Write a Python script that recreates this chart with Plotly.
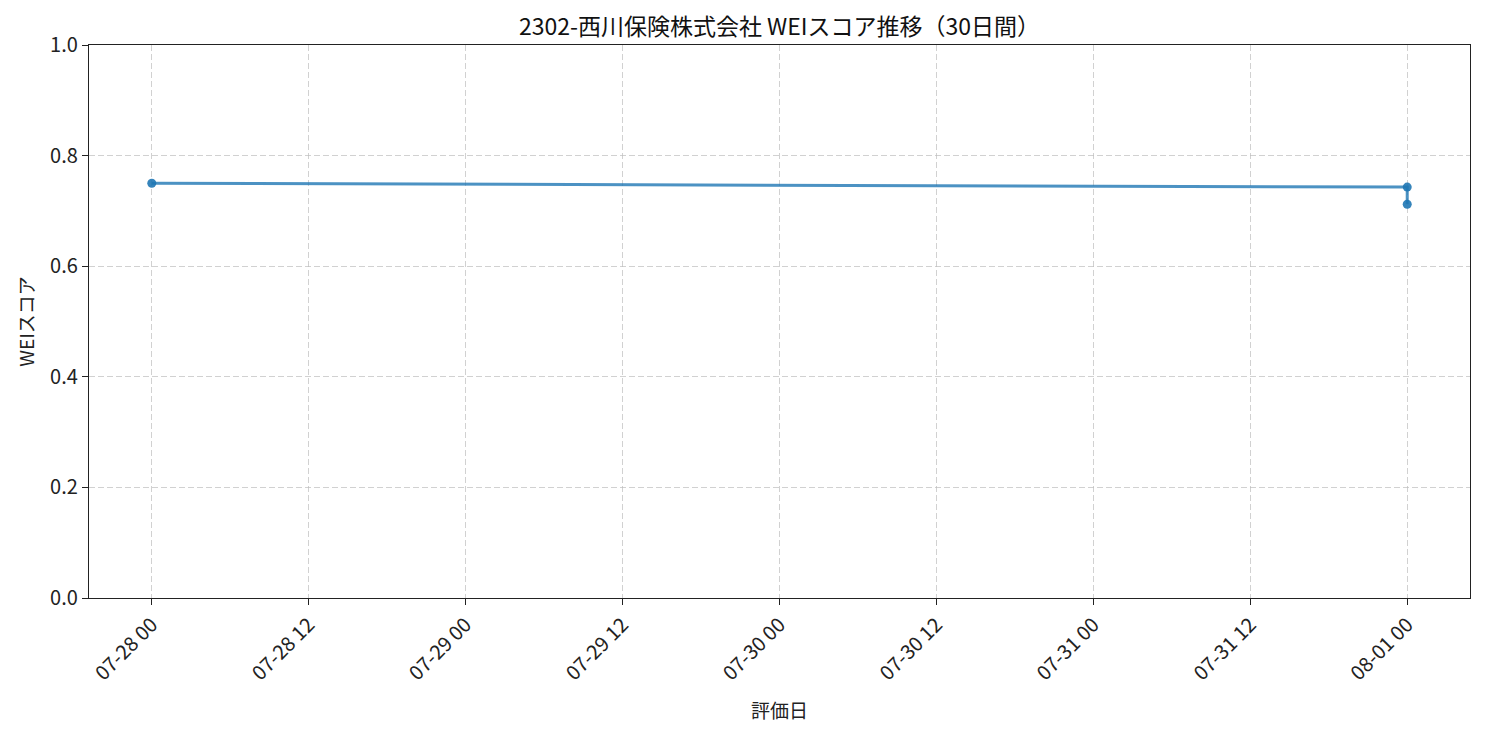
import plotly.graph_objects as go

dates = ["2025-07-28 00:00", "2025-08-01 00:00", "2025-08-01 00:00"]
scores = [0.750, 0.743, 0.712]

tick_vals = ["2025-07-28 00:00", "2025-07-28 12:00", "2025-07-29 00:00", "2025-07-29 12:00",
             "2025-07-30 00:00", "2025-07-30 12:00", "2025-07-31 00:00", "2025-07-31 12:00",
             "2025-08-01 00:00"]
tick_text = ["07-28 00", "07-28 12", "07-29 00", "07-29 12", "07-30 00",
             "07-30 12", "07-31 00", "07-31 12", "08-01 00"]
y_ticks = [0.0, 0.2, 0.4, 0.6, 0.8, 1.0]

FONT = "Noto Sans CJK JP"
OFF = 8  # browser body margin

fig = go.Figure()
fig.add_trace(go.Scatter(
    x=dates, y=scores, mode="lines",
    line=dict(color="rgba(31,119,180,0.8)", width=3),
    showlegend=False, hoverinfo="skip"))
fig.add_trace(go.Scatter(
    x=dates, y=scores, mode="markers",
    marker=dict(color="rgba(31,119,180,0.9)", size=9),
    showlegend=False))

grid = "rgba(190,190,190,0.7)"
fig.update_layout(
    width=1485, height=735,
    margin=dict(l=89 - OFF, r=15 + OFF, t=45 - OFF, b=137 + OFF),
    paper_bgcolor="white", plot_bgcolor="white",
    font=dict(family=FONT, size=20, color="#222"),
    title=dict(text="2302-西川保険株式会社 WEIスコア推移（30日間）",
               x=((89 + 1470) / 2 - OFF) / 1485, xanchor="center",
               y=1 - (27 - OFF) / 735, yanchor="middle",
               font=dict(family=FONT, size=23, color="#111")),
    xaxis=dict(
        range=["2025-07-27 19:12", "2025-08-01 04:48"],
        tickmode="array", tickvals=tick_vals, ticktext=tick_text,
        tickangle=-45, ticks="outside", ticklen=6, tickwidth=1.3, tickcolor="#222",
        showline=True, linecolor="#222", linewidth=1.3, mirror=True,
        showgrid=True, gridcolor=grid, griddash="6px,3px", gridwidth=1,
        zeroline=False,
        tickfont=dict(family=FONT, size=20, color="#222"),
        title=dict(text="評価日", font=dict(family=FONT, size=19, color="#222"), standoff=20),
    ),
    yaxis=dict(
        range=[0, 1], tickmode="array", tickvals=y_ticks,
        ticktext=[f"{v:.1f}" for v in y_ticks],
        ticks="outside", ticklen=6, tickwidth=1.3, tickcolor="#222",
        showline=True, linecolor="#222", linewidth=1.3, mirror=True,
        showgrid=True, gridcolor=grid, griddash="6px,3px", gridwidth=1,
        zeroline=False,
        tickfont=dict(family=FONT, size=20, color="#222"),
        title=dict(text="WEIスコア", font=dict(family=FONT, size=19, color="#222"), standoff=10),
    ),
)

fig.write_html("out.html")
